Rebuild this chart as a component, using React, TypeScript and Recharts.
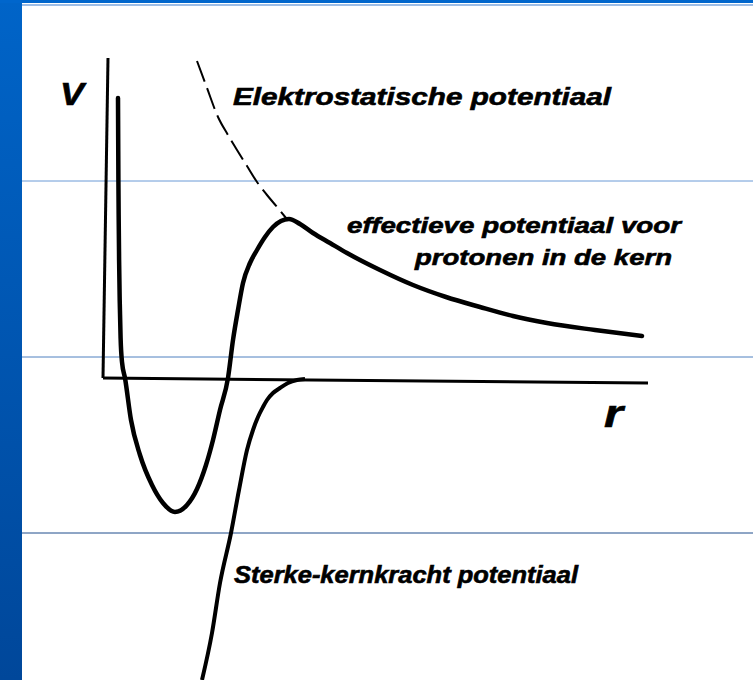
import { LineChart, Line, XAxis, YAxis, ReferenceLine } from 'recharts';

// Effective potential for protons: repulsive core, well, Coulomb barrier, tail
const effR = [0.14, 0.142, 0.144, 0.147, 0.151, 0.157, 0.166, 0.18, 0.21, 0.27, 0.36, 0.48, 0.59, 0.71, 0.83, 0.93, 1.02, 1.09, 1.16, 1.24, 1.29, 1.34, 1.39, 1.46, 1.53, 1.61, 1.69, 1.77, 1.85, 1.96, 2.09, 2.26, 2.43, 2.76, 3.09, 3.42, 3.76, 4.09, 4.43, 4.91, 5.38];
const effV = [2.8, 2.38, 1.98, 1.58, 1.18, 0.78, 0.4, 0.16, 0, -0.42, -0.77, -1.07, -1.25, -1.34, -1.27, -1.11, -0.87, -0.62, -0.32, 0, 0.38, 0.68, 0.95, 1.15, 1.28, 1.41, 1.51, 1.57, 1.59, 1.54, 1.45, 1.35, 1.25, 1.08, 0.93, 0.81, 0.71, 0.62, 0.55, 0.48, 0.42];

// Electrostatic (Coulomb) part, drawn dashed inside the barrier
const coulR = [0.93, 1.03, 1.14, 1.24, 1.33, 1.43, 1.53, 1.63, 1.73, 1.82];
const coulV = [3.17, 2.9, 2.61, 2.43, 2.28, 2.12, 1.96, 1.83, 1.71, 1.6];

// Strong nuclear force potential
const strongR = [0.98, 1.08, 1.16, 1.27, 1.35, 1.43, 1.49, 1.54, 1.59, 1.63, 1.69, 1.76, 1.84, 1.93, 2.01];
const strongV = [-3.02, -2.55, -2.05, -1.55, -1.12, -0.72, -0.52, -0.39, -0.29, -0.22, -0.15, -0.1, -0.05, -0.02, -0.01];

// Hand-drawn axes (start and end points)
const vAxisR = [-0.01, 0.04];
const vAxisV = [0, 3.2];
const rAxisR = [-0.01, 5.44];
const rAxisV = [0, -0.05];

// Slide ruling lines
const ruleV = [1.97, 0.21, -1.55];
const ruleColors = ['#6b9ad6', '#4f80c0', '#1e4d8c'];

const toRows = (rs: number[], vs: number[]) => rs.map((r, i) => ({ r, v: vs[i] }));

const effData = toRows(effR, effV);
const coulData = toRows(coulR, coulV);
const strongData = toRows(strongR, strongV);

const font = {
  fontFamily: '"Liberation Sans", Arial, sans-serif',
  fontWeight: 'bold' as const,
  fontStyle: 'italic' as const,
  fill: '#000',
  stroke: '#000',
  strokeWidth: 0.6,
  lengthAdjust: 'spacingAndGlyphs' as const,
};

export default function App() {
  return (
    <div style={{ position: 'absolute', left: 0, top: 0, width: 753, height: 680, background: '#fff', overflow: 'hidden' }}>
      <div
        style={{
          position: 'absolute',
          left: 0,
          top: 0,
          width: 22,
          height: 680,
          background: 'linear-gradient(#0064c8, #00479a)',
        }}
      />
      <div style={{ position: 'absolute', left: 0, top: 0, width: 753, height: 3, background: '#0066cc' }} />
      <div style={{ position: 'absolute', left: 22, top: 4, width: 731, height: 2, background: '#9dbde6' }} />

      <div style={{ position: 'absolute', left: 22, top: 0 }}>
        <LineChart width={731} height={680} margin={{ top: 0, right: 0, bottom: 0, left: 0 }}>
          <XAxis dataKey="r" type="number" domain={[-0.82, 6.49]} hide allowDataOverflow />
          <YAxis type="number" domain={[-3.02, 3.78]} hide allowDataOverflow />
          {ruleV.map((v, i) => (
            <ReferenceLine key={v} y={v} stroke={ruleColors[i]} strokeWidth={1} />
          ))}
          <ReferenceLine
            segment={[
              { x: vAxisR[0], y: vAxisV[0] },
              { x: vAxisR[1], y: vAxisV[1] },
            ]}
            stroke="#000"
            strokeWidth={3}
          />
          <ReferenceLine
            segment={[
              { x: rAxisR[0], y: rAxisV[0] },
              { x: rAxisR[1], y: rAxisV[1] },
            ]}
            stroke="#000"
            strokeWidth={3}
          />
          <Line
            data={coulData}
            dataKey="v"
            type="monotone"
            stroke="#000"
            strokeWidth={2}
            strokeDasharray="22 7"
            dot={false}
            isAnimationActive={false}
          />
          <Line
            data={strongData}
            dataKey="v"
            type="monotone"
            stroke="#000"
            strokeWidth={4}
            dot={false}
            isAnimationActive={false}
          />
          <Line
            data={effData}
            dataKey="v"
            type="monotone"
            stroke="#000"
            strokeWidth={4.5}
            strokeLinecap="round"
            dot={false}
            isAnimationActive={false}
          />
        </LineChart>
      </div>

      <svg width={753} height={680} style={{ position: 'absolute', left: 0, top: 0, pointerEvents: 'none' }}>
        <text x={60} y={105} fontSize={31} textLength={24} {...font}>V</text>
        <text x={233} y={105} fontSize={24} textLength={378} {...font}>Elektrostatische potentiaal</text>
        <text x={347} y={233} fontSize={22} textLength={334} {...font}>effectieve potentiaal voor</text>
        <text x={415} y={265} fontSize={22} textLength={257} {...font}>protonen in de kern</text>
        <text x={604} y={427} fontSize={38} textLength={19} {...font}>r</text>
        <text x={234} y={583} fontSize={23} textLength={344} {...font}>Sterke-kernkracht potentiaal</text>
      </svg>
    </div>
  );
}
